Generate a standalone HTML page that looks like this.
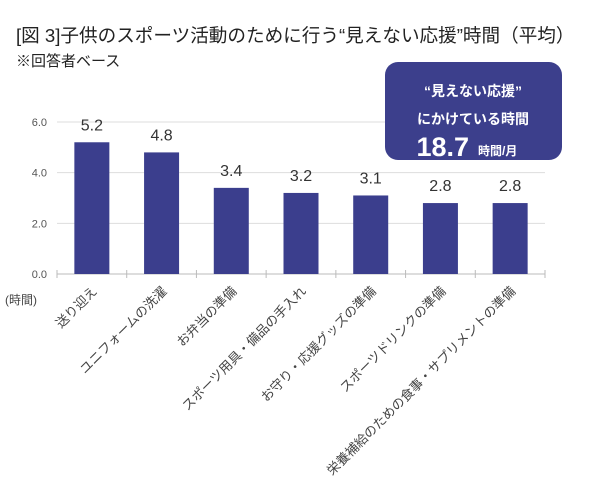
<!DOCTYPE html>
<html><head><meta charset="utf-8"><style>
body{margin:0;background:#fff;font-family:"Liberation Sans","Noto Sans CJK JP",sans-serif}
#c{position:relative;width:600px;height:486px;overflow:hidden}
</style></head><body><div id="c">
<svg width="600" height="486" font-family="Liberation Sans, Noto Sans CJK JP, sans-serif">
<text x="16" y="42" font-size="18.6" fill="#222">[図 3]子供のスポーツ活動のために行う“見えない応援”時間（平均）</text>
<text x="16" y="66" font-size="15" fill="#222">※回答者ベース</text>
<g id="grid"></g><g id="bars"></g>
<text x="5" y="304" font-size="12" fill="#444">(時間)</text>
<g>
<rect x="385" y="62" width="177" height="98" rx="13" fill="#3c3f8c"/>
<text x="473" y="96" font-size="14" font-weight="bold" fill="#fff" text-anchor="middle">“見えない応援”</text>
<text x="473" y="124" font-size="14" font-weight="bold" fill="#fff" text-anchor="middle">にかけている時間</text>
<text x="469" y="156" font-size="27" font-weight="bold" fill="#fff" text-anchor="end">18.7</text>
<text x="478" y="155" font-size="12" font-weight="bold" fill="#fff">時間/月</text>
</g>
</svg></div>
<script>
const categories=["送り迎え","ユニフォームの洗濯","お弁当の準備","スポーツ用具・備品の手入れ","お守り・応援グッズの準備","スポーツドリンクの準備","栄養補給のための食事・サプリメントの準備"];
const values=[5.2,4.8,3.4,3.2,3.1,2.8,2.8];
const ticks=[0,2,4,6];
const NS="http://www.w3.org/2000/svg";
const x0=57,x1=545,yBase=274,yTop=122,yMax=6;
const bw=(x1-x0)/categories.length;
const y=v=>yBase-(v/yMax)*(yBase-yTop);
const xc=i=>x0+bw*(i+0.5);
function mk(t,a,p){const e=document.createElementNS(NS,t);for(const k in a)e.setAttribute(k,a[k]);p.appendChild(e);return e;}
const grid=document.getElementById('grid'),bars=document.getElementById('bars');
ticks.forEach(t=>{
 const l=mk('line',{x1:x0,x2:x1,y1:y(t),y2:y(t),stroke:t===0?'#bbb':'#ddd','stroke-width':1},grid);
 
 
 const tx=mk('text',{x:x0-10,y:y(t)+4,'font-size':11,fill:'#555','text-anchor':'end'},grid);
 tx.textContent=t.toFixed(1);
 
 
});
for(let i=0;i<=categories.length;i++){
 const l=mk('line',{x1:x0+bw*i,x2:x0+bw*i,y1:yBase-4,y2:yBase+4,stroke:'#bbb'},grid);
 
 
}
categories.forEach((c,i)=>{
 const v=values[i];
 const r=mk('rect',{x:xc(i)-17.5,y:y(v),width:35,height:yBase-y(v),fill:'#3b3e8d'},bars);
 
 
 const t=mk('text',{x:xc(i),y:y(v)-12,'font-size':16,fill:'#333','text-anchor':'middle'},bars);
 t.textContent=v.toFixed(1);
 
 
 const lx=xc(i)+6,ly=yBase+18;
 const lb=mk('text',{x:lx,y:ly,'font-size':13,fill:'#444','text-anchor':'end',transform:`rotate(-45 ${lx} ${ly})`},bars);
 lb.textContent=c;
 
 
});
</script></body></html>
